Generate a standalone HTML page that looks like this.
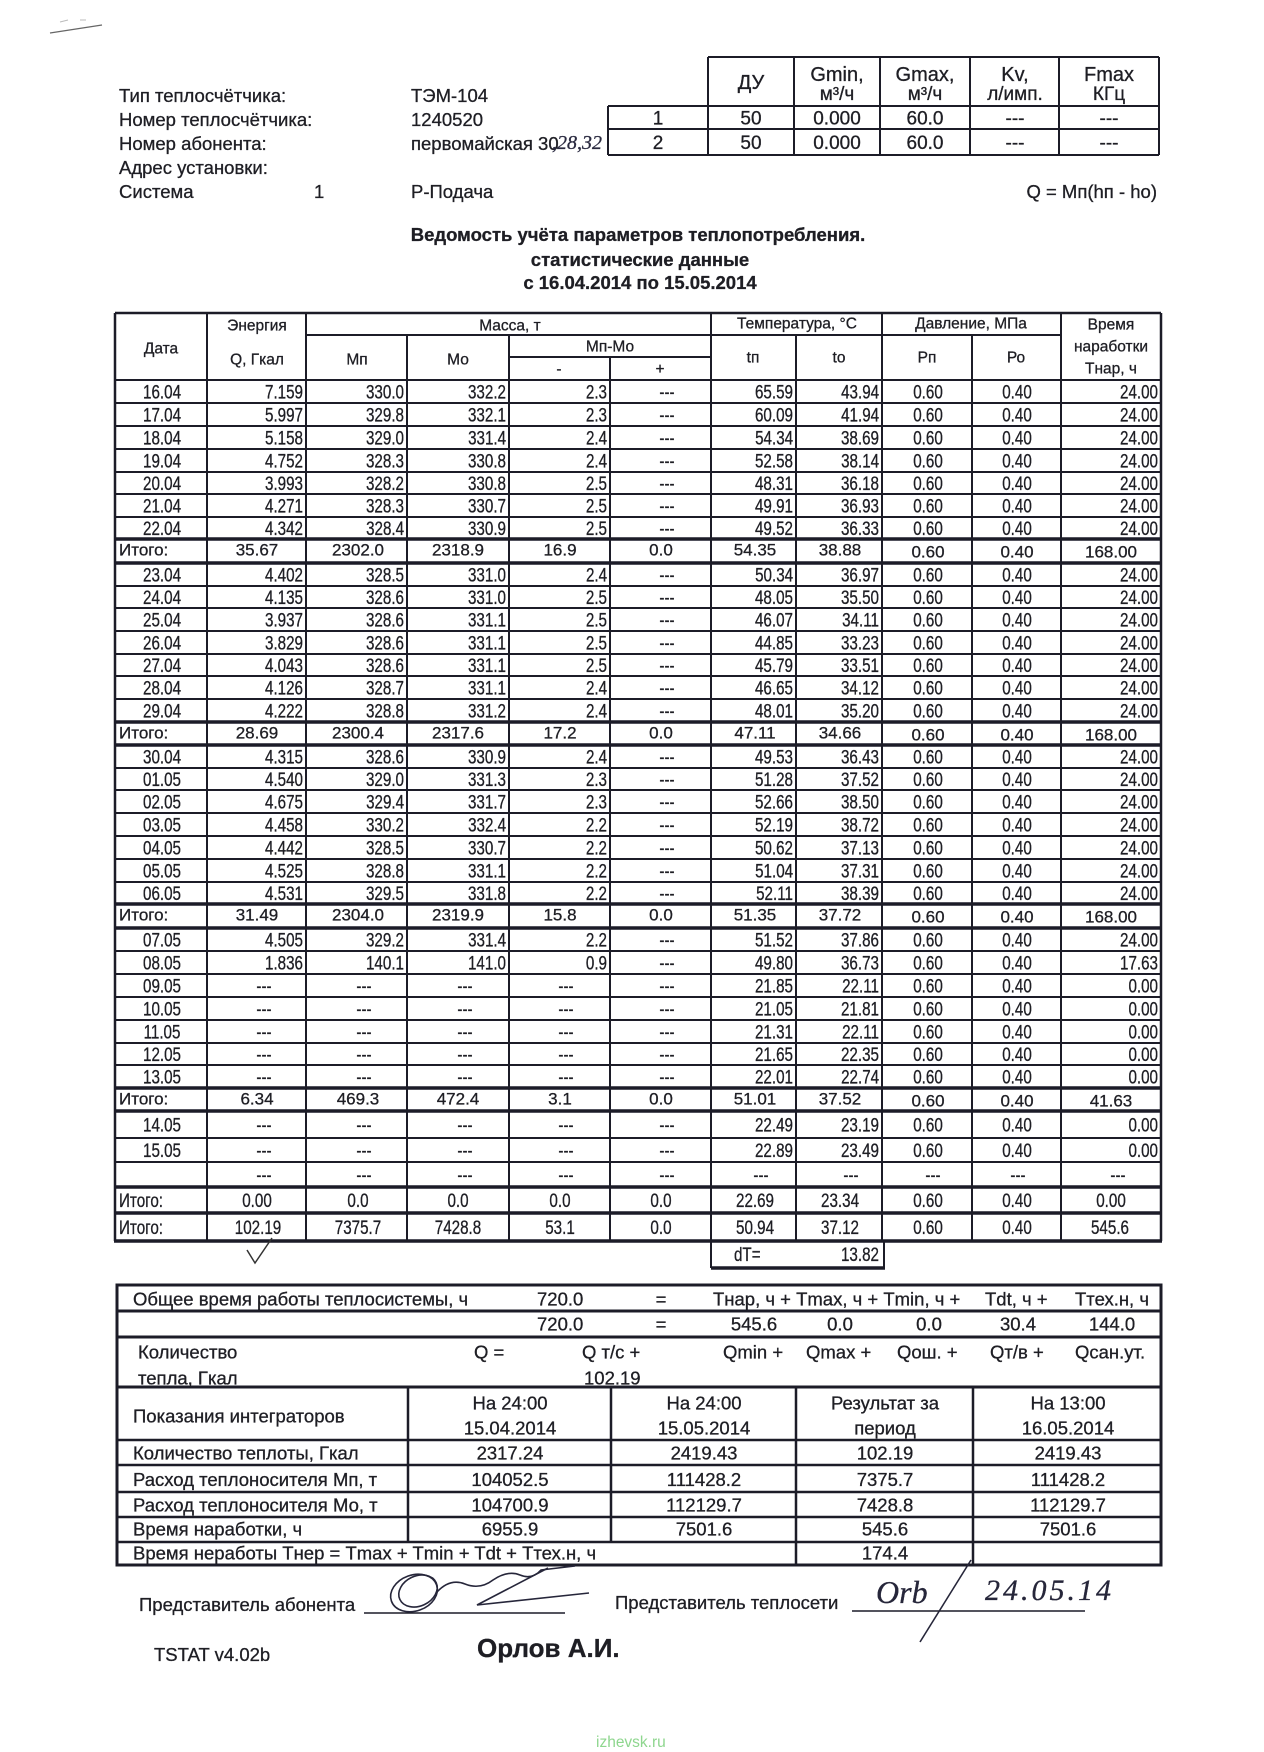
<!DOCTYPE html>
<html><head><meta charset="utf-8"><title>Ведомость</title>
<style>
html,body{margin:0;padding:0;background:#fff;}
svg{display:block}
text{font-family:"Liberation Sans",Arial,"DejaVu Sans",sans-serif;fill:#1e1e24;stroke:#1e1e24;stroke-width:.3px;}
.lb text{font-size:18.5px}
.dr text{font-size:19px;text-anchor:end;transform-box:fill-box;transform-origin:100% 50%;transform:scaleX(.8)}
.dr text.m{text-anchor:middle;transform-origin:50% 50%}
.dr text.s{text-anchor:start;transform-origin:0 50%}
.it text{font-size:17px;text-anchor:middle}
.it text.s{text-anchor:start}
.h text{font-size:15.5px;text-anchor:middle}
.tt text{font-size:19px;text-anchor:middle}
.tt text.hd{font-size:20px}
.c{text-anchor:middle}
.e{text-anchor:end}
</style></head>
<body>
<svg width="1264" height="1752" viewBox="0 0 1264 1752" xmlns="http://www.w3.org/2000/svg">
<rect width="1264" height="1752" fill="#fff"/>
<!-- corner scribble -->
<path d="M50 33 L102 25" stroke="#666" stroke-width="1.3" fill="none"/>
<path d="M60 22 l8 -2 M80 20 l6 0" stroke="#bbb" stroke-width="1" fill="none"/>

<!-- top labels -->
<g class="lb">
<text x="119" y="102">Тип теплосчётчика:</text>
<text x="411" y="102">ТЭМ-104</text>
<text x="119" y="126">Номер теплосчётчика:</text>
<text x="411" y="126">1240520</text>
<text x="119" y="150">Номер абонента:</text>
<text x="411" y="150">первомайская 30</text>
<text x="119" y="174">Адрес установки:</text>
<text x="119" y="198">Система</text>
<text x="314" y="198">1</text>
<text x="411" y="198">Р-Подача</text>
<text x="1157" y="198" class="e">Q = Мп(hп - hо)</text>
</g>
<text x="552" y="149" style="font-family:'Liberation Serif',serif;font-style:italic;font-size:20px;fill:#2a2a40;stroke:#2a2a40">,28,32</text>

<!-- top table -->
<g stroke="#1c1c28" stroke-width="2" fill="none">
<path d="M708 57 H1159 M608 106 H1159 M608 129 H1159 M608 155 H1159 M608 106 V155 M708 57 V155 M794 57 V155 M880 57 V155 M970 57 V155 M1059 57 V155 M1159 57 V155"/>
</g>
<g class="tt">
<text x="751" y="89" class="hd">ДУ</text>
<text x="837" y="81" class="hd">Gmin,</text><text x="837" y="100">м³/ч</text>
<text x="925" y="81" class="hd">Gmax,</text><text x="925" y="100">м³/ч</text>
<text x="1015" y="81" class="hd">Kv,</text><text x="1015" y="100">л/имп.</text>
<text x="1109" y="81" class="hd">Fmax</text><text x="1109" y="100">КГц</text>
<text x="658" y="124.5">1</text><text x="751" y="124.5">50</text><text x="837" y="124.5">0.000</text><text x="925" y="124.5">60.0</text><text x="1015" y="124.5">---</text><text x="1109" y="124.5">---</text>
<text x="658" y="149">2</text><text x="751" y="149">50</text><text x="837" y="149">0.000</text><text x="925" y="149">60.0</text><text x="1015" y="149">---</text><text x="1109" y="149">---</text>
</g>

<!-- title -->
<text x="638" y="241" class="c" style="font-weight:bold;font-size:18.5px">Ведомость учёта параметров теплопотребления.</text>
<text x="640" y="266" class="c" style="font-weight:bold;font-size:18.5px">статистические данные</text>
<text x="640" y="289" class="c" style="font-weight:bold;font-size:18.5px">с 16.04.2014 по 15.05.2014</text>

<!-- main table lines -->
<g stroke="#1c1c28" fill="none">
<path stroke-width="2.5" d="M115 313 H1161"/>
<path stroke-width="2" d="M306 335 H1061 M509 357 H711 M115 380 H1161 M115 403 H1161 M115 426 H1161 M115 449 H1161 M115 472 H1161 M115 494 H1161 M115 517 H1161 M115 586 H1161 M115 608 H1161 M115 631 H1161 M115 654 H1161 M115 676 H1161 M115 699 H1161 M115 768 H1161 M115 790 H1161 M115 813 H1161 M115 836 H1161 M115 859 H1161 M115 882 H1161 M115 951 H1161 M115 974 H1161 M115 997 H1161 M115 1020 H1161 M115 1043 H1161 M115 1065 H1161 M115 1138 H1161 M115 1162 H1161"/>
<path stroke-width="3.5" d="M114 539 H1162 M114 563 H1162 M114 722 H1162 M114 745 H1162 M114 904 H1162 M114 928 H1162 M114 1088 H1162 M114 1111 H1162 M114 1187 H1162 M114 1213 H1162 M114 1241 H1162 M711 1268 H885"/>
<path stroke-width="2.5" d="M115 313 V1241 M1161 313 V1241"/>
<path stroke-width="2" d="M207 313 V1241 M306 313 V1241 M407 335 V1241 M509 335 V1241 M610 357 V1241 M711 313 V1268 M796 335 V1241 M882 313 V1241 M972 335 V1241 M1061 313 V1241 M884 1241 V1268"/>
</g>

<!-- header text -->
<g class="h">
<text x="161" y="353.5">Дата</text>
<text x="257" y="330.5">Энергия</text>
<text x="257" y="364.5">Q, Гкал</text>
<text x="510" y="330.5">Масса, т</text>
<text x="357" y="364.5">Мп</text>
<text x="458" y="364.5">Мо</text>
<text x="610" y="351.5">Мп-Мо</text>
<text x="559" y="374">-</text>
<text x="660" y="374">+</text>
<text x="797" y="328.5">Температура, °С</text>
<text x="753" y="362.5">tп</text>
<text x="839" y="362.5">tо</text>
<text x="971" y="328.5">Давление, МПа</text>
<text x="927" y="362.5">Рп</text>
<text x="1016" y="362.5">Ро</text>
<text x="1111" y="329.5">Время</text>
<text x="1111" y="351.5">наработки</text>
<text x="1111" y="373.5">Тнар, ч</text>
</g>

<!-- data rows -->
<g class="dr">
<g transform="translate(0,398.5)"><text x="162" class="m">16.04</text><text x="303">7.159</text><text x="404">330.0</text><text x="506">332.2</text><text x="607">2.3</text><text x="667" class="m">---</text><text x="793">65.59</text><text x="879">43.94</text><text x="928" class="m">0.60</text><text x="1017" class="m">0.40</text><text x="1158">24.00</text></g>
<g transform="translate(0,421.5)"><text x="162" class="m">17.04</text><text x="303">5.997</text><text x="404">329.8</text><text x="506">332.1</text><text x="607">2.3</text><text x="667" class="m">---</text><text x="793">60.09</text><text x="879">41.94</text><text x="928" class="m">0.60</text><text x="1017" class="m">0.40</text><text x="1158">24.00</text></g>
<g transform="translate(0,444.5)"><text x="162" class="m">18.04</text><text x="303">5.158</text><text x="404">329.0</text><text x="506">331.4</text><text x="607">2.4</text><text x="667" class="m">---</text><text x="793">54.34</text><text x="879">38.69</text><text x="928" class="m">0.60</text><text x="1017" class="m">0.40</text><text x="1158">24.00</text></g>
<g transform="translate(0,467.5)"><text x="162" class="m">19.04</text><text x="303">4.752</text><text x="404">328.3</text><text x="506">330.8</text><text x="607">2.4</text><text x="667" class="m">---</text><text x="793">52.58</text><text x="879">38.14</text><text x="928" class="m">0.60</text><text x="1017" class="m">0.40</text><text x="1158">24.00</text></g>
<g transform="translate(0,490)"><text x="162" class="m">20.04</text><text x="303">3.993</text><text x="404">328.2</text><text x="506">330.8</text><text x="607">2.5</text><text x="667" class="m">---</text><text x="793">48.31</text><text x="879">36.18</text><text x="928" class="m">0.60</text><text x="1017" class="m">0.40</text><text x="1158">24.00</text></g>
<g transform="translate(0,512.5)"><text x="162" class="m">21.04</text><text x="303">4.271</text><text x="404">328.3</text><text x="506">330.7</text><text x="607">2.5</text><text x="667" class="m">---</text><text x="793">49.91</text><text x="879">36.93</text><text x="928" class="m">0.60</text><text x="1017" class="m">0.40</text><text x="1158">24.00</text></g>
<g transform="translate(0,535)"><text x="162" class="m">22.04</text><text x="303">4.342</text><text x="404">328.4</text><text x="506">330.9</text><text x="607">2.5</text><text x="667" class="m">---</text><text x="793">49.52</text><text x="879">36.33</text><text x="928" class="m">0.60</text><text x="1017" class="m">0.40</text><text x="1158">24.00</text></g>

<g transform="translate(0,581.5)"><text x="162" class="m">23.04</text><text x="303">4.402</text><text x="404">328.5</text><text x="506">331.0</text><text x="607">2.4</text><text x="667" class="m">---</text><text x="793">50.34</text><text x="879">36.97</text><text x="928" class="m">0.60</text><text x="1017" class="m">0.40</text><text x="1158">24.00</text></g>
<g transform="translate(0,604)"><text x="162" class="m">24.04</text><text x="303">4.135</text><text x="404">328.6</text><text x="506">331.0</text><text x="607">2.5</text><text x="667" class="m">---</text><text x="793">48.05</text><text x="879">35.50</text><text x="928" class="m">0.60</text><text x="1017" class="m">0.40</text><text x="1158">24.00</text></g>
<g transform="translate(0,626.5)"><text x="162" class="m">25.04</text><text x="303">3.937</text><text x="404">328.6</text><text x="506">331.1</text><text x="607">2.5</text><text x="667" class="m">---</text><text x="793">46.07</text><text x="879">34.11</text><text x="928" class="m">0.60</text><text x="1017" class="m">0.40</text><text x="1158">24.00</text></g>
<g transform="translate(0,649.5)"><text x="162" class="m">26.04</text><text x="303">3.829</text><text x="404">328.6</text><text x="506">331.1</text><text x="607">2.5</text><text x="667" class="m">---</text><text x="793">44.85</text><text x="879">33.23</text><text x="928" class="m">0.60</text><text x="1017" class="m">0.40</text><text x="1158">24.00</text></g>
<g transform="translate(0,672)"><text x="162" class="m">27.04</text><text x="303">4.043</text><text x="404">328.6</text><text x="506">331.1</text><text x="607">2.5</text><text x="667" class="m">---</text><text x="793">45.79</text><text x="879">33.51</text><text x="928" class="m">0.60</text><text x="1017" class="m">0.40</text><text x="1158">24.00</text></g>
<g transform="translate(0,694.5)"><text x="162" class="m">28.04</text><text x="303">4.126</text><text x="404">328.7</text><text x="506">331.1</text><text x="607">2.4</text><text x="667" class="m">---</text><text x="793">46.65</text><text x="879">34.12</text><text x="928" class="m">0.60</text><text x="1017" class="m">0.40</text><text x="1158">24.00</text></g>
<g transform="translate(0,717.5)"><text x="162" class="m">29.04</text><text x="303">4.222</text><text x="404">328.8</text><text x="506">331.2</text><text x="607">2.4</text><text x="667" class="m">---</text><text x="793">48.01</text><text x="879">35.20</text><text x="928" class="m">0.60</text><text x="1017" class="m">0.40</text><text x="1158">24.00</text></g>

<g transform="translate(0,763.5)"><text x="162" class="m">30.04</text><text x="303">4.315</text><text x="404">328.6</text><text x="506">330.9</text><text x="607">2.4</text><text x="667" class="m">---</text><text x="793">49.53</text><text x="879">36.43</text><text x="928" class="m">0.60</text><text x="1017" class="m">0.40</text><text x="1158">24.00</text></g>
<g transform="translate(0,786)"><text x="162" class="m">01.05</text><text x="303">4.540</text><text x="404">329.0</text><text x="506">331.3</text><text x="607">2.3</text><text x="667" class="m">---</text><text x="793">51.28</text><text x="879">37.52</text><text x="928" class="m">0.60</text><text x="1017" class="m">0.40</text><text x="1158">24.00</text></g>
<g transform="translate(0,808.5)"><text x="162" class="m">02.05</text><text x="303">4.675</text><text x="404">329.4</text><text x="506">331.7</text><text x="607">2.3</text><text x="667" class="m">---</text><text x="793">52.66</text><text x="879">38.50</text><text x="928" class="m">0.60</text><text x="1017" class="m">0.40</text><text x="1158">24.00</text></g>
<g transform="translate(0,831.5)"><text x="162" class="m">03.05</text><text x="303">4.458</text><text x="404">330.2</text><text x="506">332.4</text><text x="607">2.2</text><text x="667" class="m">---</text><text x="793">52.19</text><text x="879">38.72</text><text x="928" class="m">0.60</text><text x="1017" class="m">0.40</text><text x="1158">24.00</text></g>
<g transform="translate(0,854.5)"><text x="162" class="m">04.05</text><text x="303">4.442</text><text x="404">328.5</text><text x="506">330.7</text><text x="607">2.2</text><text x="667" class="m">---</text><text x="793">50.62</text><text x="879">37.13</text><text x="928" class="m">0.60</text><text x="1017" class="m">0.40</text><text x="1158">24.00</text></g>
<g transform="translate(0,877.5)"><text x="162" class="m">05.05</text><text x="303">4.525</text><text x="404">328.8</text><text x="506">331.1</text><text x="607">2.2</text><text x="667" class="m">---</text><text x="793">51.04</text><text x="879">37.31</text><text x="928" class="m">0.60</text><text x="1017" class="m">0.40</text><text x="1158">24.00</text></g>
<g transform="translate(0,900)"><text x="162" class="m">06.05</text><text x="303">4.531</text><text x="404">329.5</text><text x="506">331.8</text><text x="607">2.2</text><text x="667" class="m">---</text><text x="793">52.11</text><text x="879">38.39</text><text x="928" class="m">0.60</text><text x="1017" class="m">0.40</text><text x="1158">24.00</text></g>

<g transform="translate(0,946.5)"><text x="162" class="m">07.05</text><text x="303">4.505</text><text x="404">329.2</text><text x="506">331.4</text><text x="607">2.2</text><text x="667" class="m">---</text><text x="793">51.52</text><text x="879">37.86</text><text x="928" class="m">0.60</text><text x="1017" class="m">0.40</text><text x="1158">24.00</text></g>
<g transform="translate(0,969.5)"><text x="162" class="m">08.05</text><text x="303">1.836</text><text x="404">140.1</text><text x="506">141.0</text><text x="607">0.9</text><text x="667" class="m">---</text><text x="793">49.80</text><text x="879">36.73</text><text x="928" class="m">0.60</text><text x="1017" class="m">0.40</text><text x="1158">17.63</text></g>
<g transform="translate(0,992.5)"><text x="162" class="m">09.05</text><text x="264" class="m">---</text><text x="364" class="m">---</text><text x="465" class="m">---</text><text x="566" class="m">---</text><text x="667" class="m">---</text><text x="793">21.85</text><text x="879">22.11</text><text x="928" class="m">0.60</text><text x="1017" class="m">0.40</text><text x="1158">0.00</text></g>
<g transform="translate(0,1015.5)"><text x="162" class="m">10.05</text><text x="264" class="m">---</text><text x="364" class="m">---</text><text x="465" class="m">---</text><text x="566" class="m">---</text><text x="667" class="m">---</text><text x="793">21.05</text><text x="879">21.81</text><text x="928" class="m">0.60</text><text x="1017" class="m">0.40</text><text x="1158">0.00</text></g>
<g transform="translate(0,1038.5)"><text x="162" class="m">11.05</text><text x="264" class="m">---</text><text x="364" class="m">---</text><text x="465" class="m">---</text><text x="566" class="m">---</text><text x="667" class="m">---</text><text x="793">21.31</text><text x="879">22.11</text><text x="928" class="m">0.60</text><text x="1017" class="m">0.40</text><text x="1158">0.00</text></g>
<g transform="translate(0,1061)"><text x="162" class="m">12.05</text><text x="264" class="m">---</text><text x="364" class="m">---</text><text x="465" class="m">---</text><text x="566" class="m">---</text><text x="667" class="m">---</text><text x="793">21.65</text><text x="879">22.35</text><text x="928" class="m">0.60</text><text x="1017" class="m">0.40</text><text x="1158">0.00</text></g>
<g transform="translate(0,1083.5)"><text x="162" class="m">13.05</text><text x="264" class="m">---</text><text x="364" class="m">---</text><text x="465" class="m">---</text><text x="566" class="m">---</text><text x="667" class="m">---</text><text x="793">22.01</text><text x="879">22.74</text><text x="928" class="m">0.60</text><text x="1017" class="m">0.40</text><text x="1158">0.00</text></g>

<g transform="translate(0,1131.5)"><text x="162" class="m">14.05</text><text x="264" class="m">---</text><text x="364" class="m">---</text><text x="465" class="m">---</text><text x="566" class="m">---</text><text x="667" class="m">---</text><text x="793">22.49</text><text x="879">23.19</text><text x="928" class="m">0.60</text><text x="1017" class="m">0.40</text><text x="1158">0.00</text></g>
<g transform="translate(0,1157)"><text x="162" class="m">15.05</text><text x="264" class="m">---</text><text x="364" class="m">---</text><text x="465" class="m">---</text><text x="566" class="m">---</text><text x="667" class="m">---</text><text x="793">22.89</text><text x="879">23.49</text><text x="928" class="m">0.60</text><text x="1017" class="m">0.40</text><text x="1158">0.00</text></g>
<g transform="translate(0,1181.5)"><text x="264" class="m">---</text><text x="364" class="m">---</text><text x="465" class="m">---</text><text x="566" class="m">---</text><text x="667" class="m">---</text><text x="761" class="m">---</text><text x="851" class="m">---</text><text x="933" class="m">---</text><text x="1018" class="m">---</text><text x="1118" class="m">---</text></g>

<g transform="translate(0,1207)"><text x="119" class="s">Итого:</text><text x="257" class="m">0.00</text><text x="358" class="m">0.0</text><text x="458" class="m">0.0</text><text x="560" class="m">0.0</text><text x="661" class="m">0.0</text><text x="755" class="m">22.69</text><text x="840" class="m">23.34</text><text x="928" class="m">0.60</text><text x="1017" class="m">0.40</text><text x="1111" class="m">0.00</text></g>
<g transform="translate(0,1234)"><text x="119" class="s">Итого:</text><text x="258" class="m">102.19</text><text x="358" class="m">7375.7</text><text x="458" class="m">7428.8</text><text x="560" class="m">53.1</text><text x="661" class="m">0.0</text><text x="755" class="m">50.94</text><text x="840" class="m">37.12</text><text x="928" class="m">0.60</text><text x="1017" class="m">0.40</text><text x="1110" class="m">545.6</text></g>
<g transform="translate(0,1261)"><text x="734" class="s">dT=</text><text x="879">13.82</text></g>
</g>

<!-- Итого rows (normal font) -->
<g class="it">
<g transform="translate(0,555.5)"><text x="119" class="s">Итого:</text><text x="257">35.67</text><text x="358">2302.0</text><text x="458">2318.9</text><text x="560">16.9</text><text x="661">0.0</text><text x="755">54.35</text><text x="840">38.88</text><text x="928" y="2">0.60</text><text x="1017" y="2">0.40</text><text x="1111" y="2">168.00</text></g>
<g transform="translate(0,738.5)"><text x="119" class="s">Итого:</text><text x="257">28.69</text><text x="358">2300.4</text><text x="458">2317.6</text><text x="560">17.2</text><text x="661">0.0</text><text x="755">47.11</text><text x="840">34.66</text><text x="928" y="2">0.60</text><text x="1017" y="2">0.40</text><text x="1111" y="2">168.00</text></g>
<g transform="translate(0,920.5)"><text x="119" class="s">Итого:</text><text x="257">31.49</text><text x="358">2304.0</text><text x="458">2319.9</text><text x="560">15.8</text><text x="661">0.0</text><text x="755">51.35</text><text x="840">37.72</text><text x="928" y="2">0.60</text><text x="1017" y="2">0.40</text><text x="1111" y="2">168.00</text></g>
<g transform="translate(0,1104.5)"><text x="119" class="s">Итого:</text><text x="257">6.34</text><text x="358">469.3</text><text x="458">472.4</text><text x="560">3.1</text><text x="661">0.0</text><text x="755">51.01</text><text x="840">37.52</text><text x="928" y="2">0.60</text><text x="1017" y="2">0.40</text><text x="1111" y="2">41.63</text></g>
</g>

<!-- checkmark -->
<path d="M247 1250 L255 1263 L272 1238" stroke="#333" stroke-width="1.5" fill="none"/>

<!-- bottom summary table -->
<g stroke="#1c1c28" fill="none">
<rect x="117" y="1285" width="1044" height="280" stroke-width="3"/>
<path stroke-width="3" d="M117 1311 H1161 M117 1337 H1161 M117 1387 H1161"/>
<path stroke-width="2.5" d="M117 1440 H1161 M117 1465 H1161 M117 1492 H1161 M117 1517 H1161 M117 1542 H1161 M408 1387 V1542 M611 1387 V1542 M796 1387 V1565 M973 1387 V1565"/>
</g>
<g class="lb">
<text x="133" y="1305.5">Общее время работы теплосистемы, ч</text>
<text x="537" y="1305.5">720.0</text>
<text x="661" y="1305.5" class="c">=</text>
<text x="713" y="1305.5">Тнар, ч + Tmax, ч + Tmin, ч +</text>
<text x="985" y="1305.5">Tdt, ч +</text>
<text x="1075" y="1305.5">Ттех.н, ч</text>

<text x="537" y="1330.5">720.0</text>
<text x="661" y="1330.5" class="c">=</text>
<text x="754" y="1330.5" class="c">545.6</text>
<text x="840" y="1330.5" class="c">0.0</text>
<text x="929" y="1330.5" class="c">0.0</text>
<text x="1018" y="1330.5" class="c">30.4</text>
<text x="1112" y="1330.5" class="c">144.0</text>

<text x="138" y="1358.5">Количество</text>
<text x="474" y="1358.5">Q =</text>
<text x="582" y="1358.5">Q т/с +</text>
<text x="723" y="1358.5">Qmin +</text>
<text x="806" y="1358.5">Qmax +</text>
<text x="897" y="1358.5">Qош. +</text>
<text x="990" y="1358.5">Qт/в +</text>
<text x="1075" y="1358.5">Qсан.ут.</text>
<text x="138" y="1384.5">тепла, Гкал</text>
<text x="584" y="1384.5">102.19</text>

<text x="133" y="1422.5">Показания интеграторов</text>
<text x="510" y="1409.5" class="c">На 24:00</text>
<text x="510" y="1434.5" class="c">15.04.2014</text>
<text x="704" y="1409.5" class="c">На 24:00</text>
<text x="704" y="1434.5" class="c">15.05.2014</text>
<text x="885" y="1409.5" class="c">Результат за</text>
<text x="885" y="1434.5" class="c">период</text>
<text x="1068" y="1409.5" class="c">На 13:00</text>
<text x="1068" y="1434.5" class="c">16.05.2014</text>

<text x="133" y="1459.5">Количество теплоты, Гкал</text>
<text x="510" y="1459.5" class="c">2317.24</text>
<text x="704" y="1459.5" class="c">2419.43</text>
<text x="885" y="1459.5" class="c">102.19</text>
<text x="1068" y="1459.5" class="c">2419.43</text>

<text x="133" y="1486">Расход теплоносителя Мп, т</text>
<text x="510" y="1486" class="c">104052.5</text>
<text x="704" y="1486" class="c">111428.2</text>
<text x="885" y="1486" class="c">7375.7</text>
<text x="1068" y="1486" class="c">111428.2</text>

<text x="133" y="1511.5">Расход теплоносителя Мо, т</text>
<text x="510" y="1511.5" class="c">104700.9</text>
<text x="704" y="1511.5" class="c">112129.7</text>
<text x="885" y="1511.5" class="c">7428.8</text>
<text x="1068" y="1511.5" class="c">112129.7</text>

<text x="133" y="1535.5">Время наработки, ч</text>
<text x="510" y="1535.5" class="c">6955.9</text>
<text x="704" y="1535.5" class="c">7501.6</text>
<text x="885" y="1535.5" class="c">545.6</text>
<text x="1068" y="1535.5" class="c">7501.6</text>

<text x="133" y="1559.5">Время неработы Тнер = Tmax + Tmin + Tdt + Ттех.н, ч</text>
<text x="885" y="1559.5" class="c">174.4</text>

<text x="139" y="1611">Представитель абонента</text>
<text x="615" y="1609">Представитель теплосети</text>
<text x="154" y="1661">TSTAT v4.02b</text>
</g>
<path d="M364 1613 H565 M852 1611 H1085" stroke="#1c1c28" stroke-width="1.6"/>

<!-- signatures -->
<g stroke="#26263a" stroke-width="1.6" fill="none">
<ellipse cx="414" cy="1593" rx="24" ry="18" transform="rotate(-20 414 1593)"/>
<ellipse cx="418" cy="1591" rx="20" ry="15" transform="rotate(-25 418 1591)"/>
<path d="M437 1592 Q450 1578 465 1584 Q480 1590 493 1580 Q508 1570 520 1575 Q532 1580 541 1570 L575 1566"/>
<path d="M548 1568 L477 1605 L589 1593"/>
<path d="M971 1560 L920 1642"/>
</g>
<text x="876" y="1603" style="font-family:'Liberation Serif',serif;font-style:italic;font-size:32px;fill:#26263a;stroke:#26263a">Orb</text>
<text x="985" y="1600" style="font-family:'Liberation Serif',serif;font-style:italic;font-size:30px;letter-spacing:3px;fill:#26263a;stroke:#26263a">24.05.14</text>

<text x="477" y="1657" style="font-weight:bold;font-size:26px">Орлов А.И.</text>
<text x="596" y="1747" style="font-size:15.5px;fill:#8ed68e;stroke:none">izhevsk.ru</text>
</svg>
</body></html>
